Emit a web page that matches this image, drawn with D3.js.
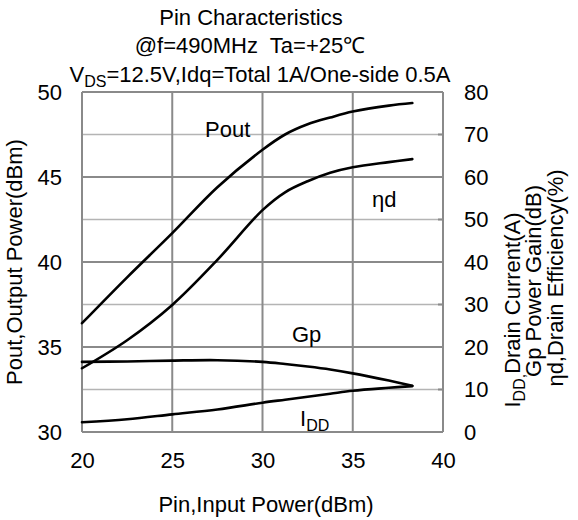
<!DOCTYPE html>
<html>
<head>
<meta charset="utf-8">
<script src="https://cdn.jsdelivr.net/npm/d3@7"></script>
<style>
  body { margin: 0; background: #fff; }
  svg { font-family: "Liberation Sans", Arial, sans-serif; }
</style>
</head>
<body>
<svg id="chart" width="578" height="520"></svg>
<script>
// values
const pin = [20, 22.5, 25, 27.5, 30, 31.25, 32.5, 33.75, 35, 37, 38.3];
const pout = [36.4, 39.1, 41.7, 44.4, 46.6, 47.5, 48.1, 48.5, 48.85, 49.2, 49.35];
const etaD = [15.0, 21.6, 29.9, 40.5, 52.2, 56.4, 59.0, 61.0, 62.3, 63.5, 64.2];
const gp = [16.5, 16.6, 16.8, 16.9, 16.5, 16.0, 15.4, 14.7, 13.8, 12.1, 10.9];
const idd = [2.3, 3.0, 4.15, 5.3, 6.9, 7.6, 8.3, 9.0, 9.7, 10.4, 10.8];

const xTicks = [20, 25, 30, 35, 40];
const leftTicks = [30, 35, 40, 45, 50];
const rightTicks = [0, 10, 20, 30, 40, 50, 60, 70, 80];

const svg = d3.select("#chart");
const margin = { left: 82, right: 578 - 443, top: 92, bottom: 520 - 432 };
const W = 578, H = 520;

const x = d3.scaleLinear().domain([20, 40]).range([margin.left, W - margin.right]);
const yL = d3.scaleLinear().domain([30, 50]).range([H - margin.bottom, margin.top]);
const yR = d3.scaleLinear().domain([0, 80]).range([H - margin.bottom, margin.top]);

// grid: light minor lines, darker at the left-axis ticks
const g = svg.append("g");
rightTicks.forEach(t => {
  const major = t % 20 === 0;
  g.append("line")
    .attr("x1", x(20)).attr("x2", x(40))
    .attr("y1", yR(t)).attr("y2", yR(t))
    .attr("stroke", major ? "#8a8a8a" : "#b4b4b4")
    .attr("stroke-width", major ? 2 : 1.5);
  // small tick on right edge
  g.append("line")
    .attr("x1", x(40) - 5).attr("x2", x(40))
    .attr("y1", yR(t)).attr("y2", yR(t))
    .attr("stroke", "#8a8a8a").attr("stroke-width", 2);
});
xTicks.forEach(t => {
  g.append("line")
    .attr("x1", x(t)).attr("x2", x(t))
    .attr("y1", yL(30)).attr("y2", yL(50))
    .attr("stroke", "#8a8a8a").attr("stroke-width", 2);
});

// axes (labels only)
const fs = 22;
const xAxis = svg.append("g")
  .attr("transform", `translate(0,${yL(30)})`)
  .call(d3.axisBottom(x).tickValues(xTicks).tickSize(0).tickPadding(20));
const yAxisL = svg.append("g")
  .attr("transform", `translate(${x(20)},0)`)
  .call(d3.axisLeft(yL).tickValues(leftTicks).tickSize(0).tickPadding(20));
const yAxisR = svg.append("g")
  .attr("transform", `translate(${x(40)},0)`)
  .call(d3.axisRight(yR).tickValues(rightTicks).tickSize(0).tickPadding(21));
[xAxis, yAxisL, yAxisR].forEach(a => {
  a.select(".domain").remove();
  a.selectAll("text").attr("font-size", fs).attr("fill", "#000")
    .attr("font-family", '"Liberation Sans", Arial, sans-serif');
});

// curves
const line = (ys, scale) => d3.line()
  .x((d, i) => x(pin[i]))
  .y(d => scale(d))
  .curve(d3.curveCatmullRom.alpha(0.5))(ys);

[[pout, yL], [etaD, yR], [gp, yR], [idd, yR]].forEach(([ys, s]) => {
  svg.append("path")
    .attr("d", line(ys, s))
    .attr("fill", "none")
    .attr("stroke", "#000")
    .attr("stroke-width", 2.6)
    .attr("stroke-linecap", "round");
});

// curve labels
const lab = (tx, ty, txt, sub) => {
  const t = svg.append("text").attr("x", tx).attr("y", ty).attr("font-size", fs).text(txt);
  if (sub) t.append("tspan").attr("font-size", 16).attr("dy", 5).text(sub);
  return t;
};
lab(205, 137, "Pout");
lab(372, 207, "ηd");
lab(292, 342, "Gp");
lab(300, 426, "I", "DD");

// titles
const title = svg.append("g").attr("font-size", fs).attr("text-anchor", "middle");
title.append("text").attr("x", 251).attr("y", 25).text("Pin Characteristics");
title.append("text").attr("x", 250).attr("y", 53).attr("xml:space", "preserve").text("@f=490MHz  Ta=+25℃");
const t3 = title.append("text").attr("x", 260).attr("y", 82);
t3.append("tspan").text("V");
t3.append("tspan").attr("font-size", 16).attr("dy", 5).text("DS");
t3.append("tspan").attr("dy", -5).text("=12.5V,Idq=Total 1A/One-side 0.5A");

// axis titles
svg.append("text").attr("x", 266).attr("y", 512).attr("font-size", fs)
  .attr("text-anchor", "middle").text("Pin,Input Power(dBm)");
svg.append("text").attr("transform", "translate(22,262) rotate(-90)")
  .attr("font-size", fs).attr("text-anchor", "middle").text("Pout,Output Power(dBm)");

const r1 = svg.append("text").attr("transform", "translate(520,310) rotate(-90)")
  .attr("font-size", fs).attr("text-anchor", "middle");
r1.append("tspan").text("I");
r1.append("tspan").attr("font-size", 16).attr("dy", 5).text("DD,");
r1.append("tspan").attr("dy", -5).text("Drain Current(A)");
svg.append("text").attr("transform", "translate(541,281) rotate(-90)")
  .attr("font-size", fs).attr("text-anchor", "middle").text("Gp Power Gain(dB)");
svg.append("text").attr("transform", "translate(563,278) rotate(-90)")
  .attr("font-size", fs).attr("text-anchor", "middle").text("ηd,Drain Efficiency(%)");
</script>
</body>
</html>
